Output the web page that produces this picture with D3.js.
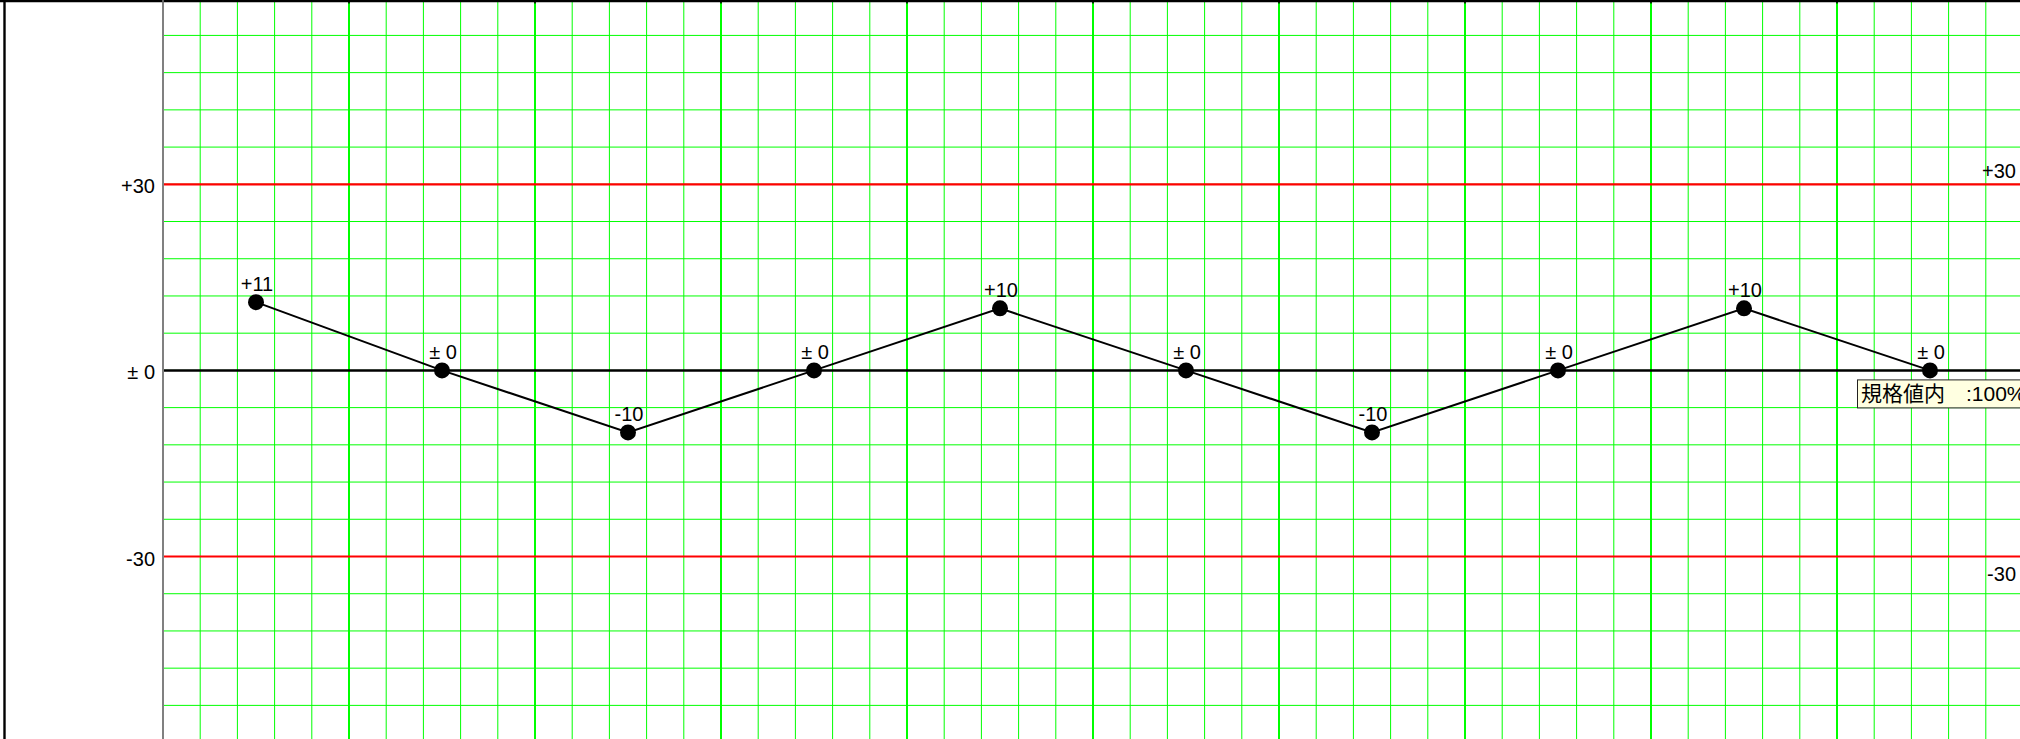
<!DOCTYPE html>
<html>
<head>
<meta charset="utf-8">
<script src="https://cdn.jsdelivr.net/npm/d3@7"></script>
<style>
body { margin: 0; background: #fff; }
svg { display: block; }
text { font-family: "Liberation Sans", Arial, sans-serif; }
</style>
</head>
<body>
<div id="chart-area"></div>
<script>

// SVG size
var width = 2020,
	height = 739;

// Data
var samples = [1, 2, 3, 4, 5, 6, 7, 8, 9, 10];
var values = [11, 0, -10, 0, 10, 0, -10, 0, 10, 0];
var limits = [30, -30];
var yTicks = [30, 0, -30];
var tipText = "規格値内\u3000:100%";

// Label format: +11, ± 0, -10
var fmt = function(v) {
	if (v > 0) return "+" + v;
	if (v < 0) return "-" + Math.abs(v);
	return "± 0";
};

var svg = d3.select("#chart-area")
	.append("svg")
	.attr("width", width)
	.attr("height", height);

// Scales: each sample owns one band of 5 minor grid cells
var xScale = d3.scaleBand()
	.domain(samples)
	.range([163, 2023]);

var yScale = d3.scaleLinear()
	.domain([-60, 60])
	.range([742.6, -1.8]);

var band = xScale.bandwidth();
var step = band / 5;

// Grid
var grid = svg.append("g");

var vLines = d3.range(0, samples.length * 5 + 1);
grid.selectAll(".vgrid")
	.data(vLines)
	.enter()
	.append("line")
	.attr("x1", function(d) { return 163 + d * step; })
	.attr("x2", function(d) { return 163 + d * step; })
	.attr("y1", 2)
	.attr("y2", height)
	.attr("stroke", "#00ff00")
	.attr("stroke-width", function(d) { return d % 5 == 0 ? 2 : 1; });

var hLines = d3.range(-60, 61, 6);
grid.selectAll(".hgrid")
	.data(hLines)
	.enter()
	.append("line")
	.attr("x1", 163)
	.attr("x2", width)
	.attr("y1", function(d) { return yScale(d); })
	.attr("y2", function(d) { return yScale(d); })
	.attr("stroke", "#00ff00")
	.attr("stroke-width", 1);

// Limit lines (red)
svg.selectAll(".limit")
	.data(limits)
	.enter()
	.append("line")
	.attr("x1", 163)
	.attr("x2", width)
	.attr("y1", function(d) { return yScale(d); })
	.attr("y2", function(d) { return yScale(d); })
	.attr("stroke", "#ff0000")
	.attr("stroke-width", 2.2);

// Zero line
svg.append("line")
	.attr("x1", 163)
	.attr("x2", width)
	.attr("y1", yScale(0))
	.attr("y2", yScale(0))
	.attr("stroke", "#000")
	.attr("stroke-width", 2.5);

// Left axis line (gray)
svg.append("line")
	.attr("x1", 163)
	.attr("x2", 163)
	.attr("y1", 0)
	.attr("y2", height)
	.attr("stroke", "#808080")
	.attr("stroke-width", 2);

// Left tick labels
svg.selectAll(".ylab")
	.data(yTicks)
	.enter()
	.append("text")
	.attr("x", 155)
	.attr("y", function(d) { return yScale(d) + 9; })
	.attr("text-anchor", "end")
	.attr("font-size", 20)
	.text(fmt);

// Right labels for the limits: upper above line, lower below
svg.selectAll(".rlab")
	.data(limits)
	.enter()
	.append("text")
	.attr("x", 2016)
	.attr("y", function(d) { return d > 0 ? yScale(d) - 6 : yScale(d) + 24; })
	.attr("text-anchor", "end")
	.attr("font-size", 20)
	.text(fmt);

// Data line
var data = samples.map(function(s, i) { return { s: s, v: values[i] }; });

var line = d3.line()
	.x(function(d) { return xScale(d.s) + band / 2; })
	.y(function(d) { return yScale(d.v); });

svg.append("path")
	.datum(data)
	.attr("d", line)
	.attr("fill", "none")
	.attr("stroke", "#000")
	.attr("stroke-width", 2);

svg.selectAll("circle")
	.data(data)
	.enter()
	.append("circle")
	.attr("cx", function(d) { return xScale(d.s) + band / 2; })
	.attr("cy", function(d) { return yScale(d.v); })
	.attr("r", 8)
	.attr("fill", "#000");

svg.selectAll(".plab")
	.data(data)
	.enter()
	.append("text")
	.attr("x", function(d) { return xScale(d.s) + band / 2 + 1; })
	.attr("y", function(d) { return yScale(d.v) - 11; })
	.attr("text-anchor", "middle")
	.attr("font-size", 20)
	.text(function(d) { return fmt(d.v); });

// Tooltip at the last point
var last = data[data.length - 1];
var tx = xScale(last.s) + band / 2 - 73,
	ty = yScale(last.v) + 9;

svg.append("rect")
	.attr("x", tx + 0.5)
	.attr("y", ty + 0.5)
	.attr("width", 200)
	.attr("height", 28)
	.attr("fill", "#ffffe1")
	.attr("stroke", "#222")
	.attr("stroke-width", 1);

svg.append("text")
	.attr("x", tx + 4)
	.attr("y", ty + 22)
	.attr("font-size", 21)
	.style("font-family", "'Liberation Sans', 'Noto Sans CJK JP', sans-serif")
	.text(tipText);

// Frame: top line with major ticks, left border
svg.append("line")
	.attr("x1", 0)
	.attr("x2", width)
	.attr("y1", 1)
	.attr("y2", 1)
	.attr("stroke", "#000")
	.attr("stroke-width", 2.5);

svg.selectAll(".tick")
	.data(d3.range(0, samples.length + 1))
	.enter()
	.append("line")
	.attr("x1", function(d) { return 163 + d * band; })
	.attr("x2", function(d) { return 163 + d * band; })
	.attr("y1", 0)
	.attr("y2", 3.5)
	.attr("stroke", function(d) { return d == 0 ? "#808080" : "#000"; })
	.attr("stroke-width", 1.5);

svg.append("line")
	.attr("x1", 4.5)
	.attr("x2", 4.5)
	.attr("y1", 0)
	.attr("y2", height)
	.attr("stroke", "#000")
	.attr("stroke-width", 2.4);

</script>
</body>
</html>
